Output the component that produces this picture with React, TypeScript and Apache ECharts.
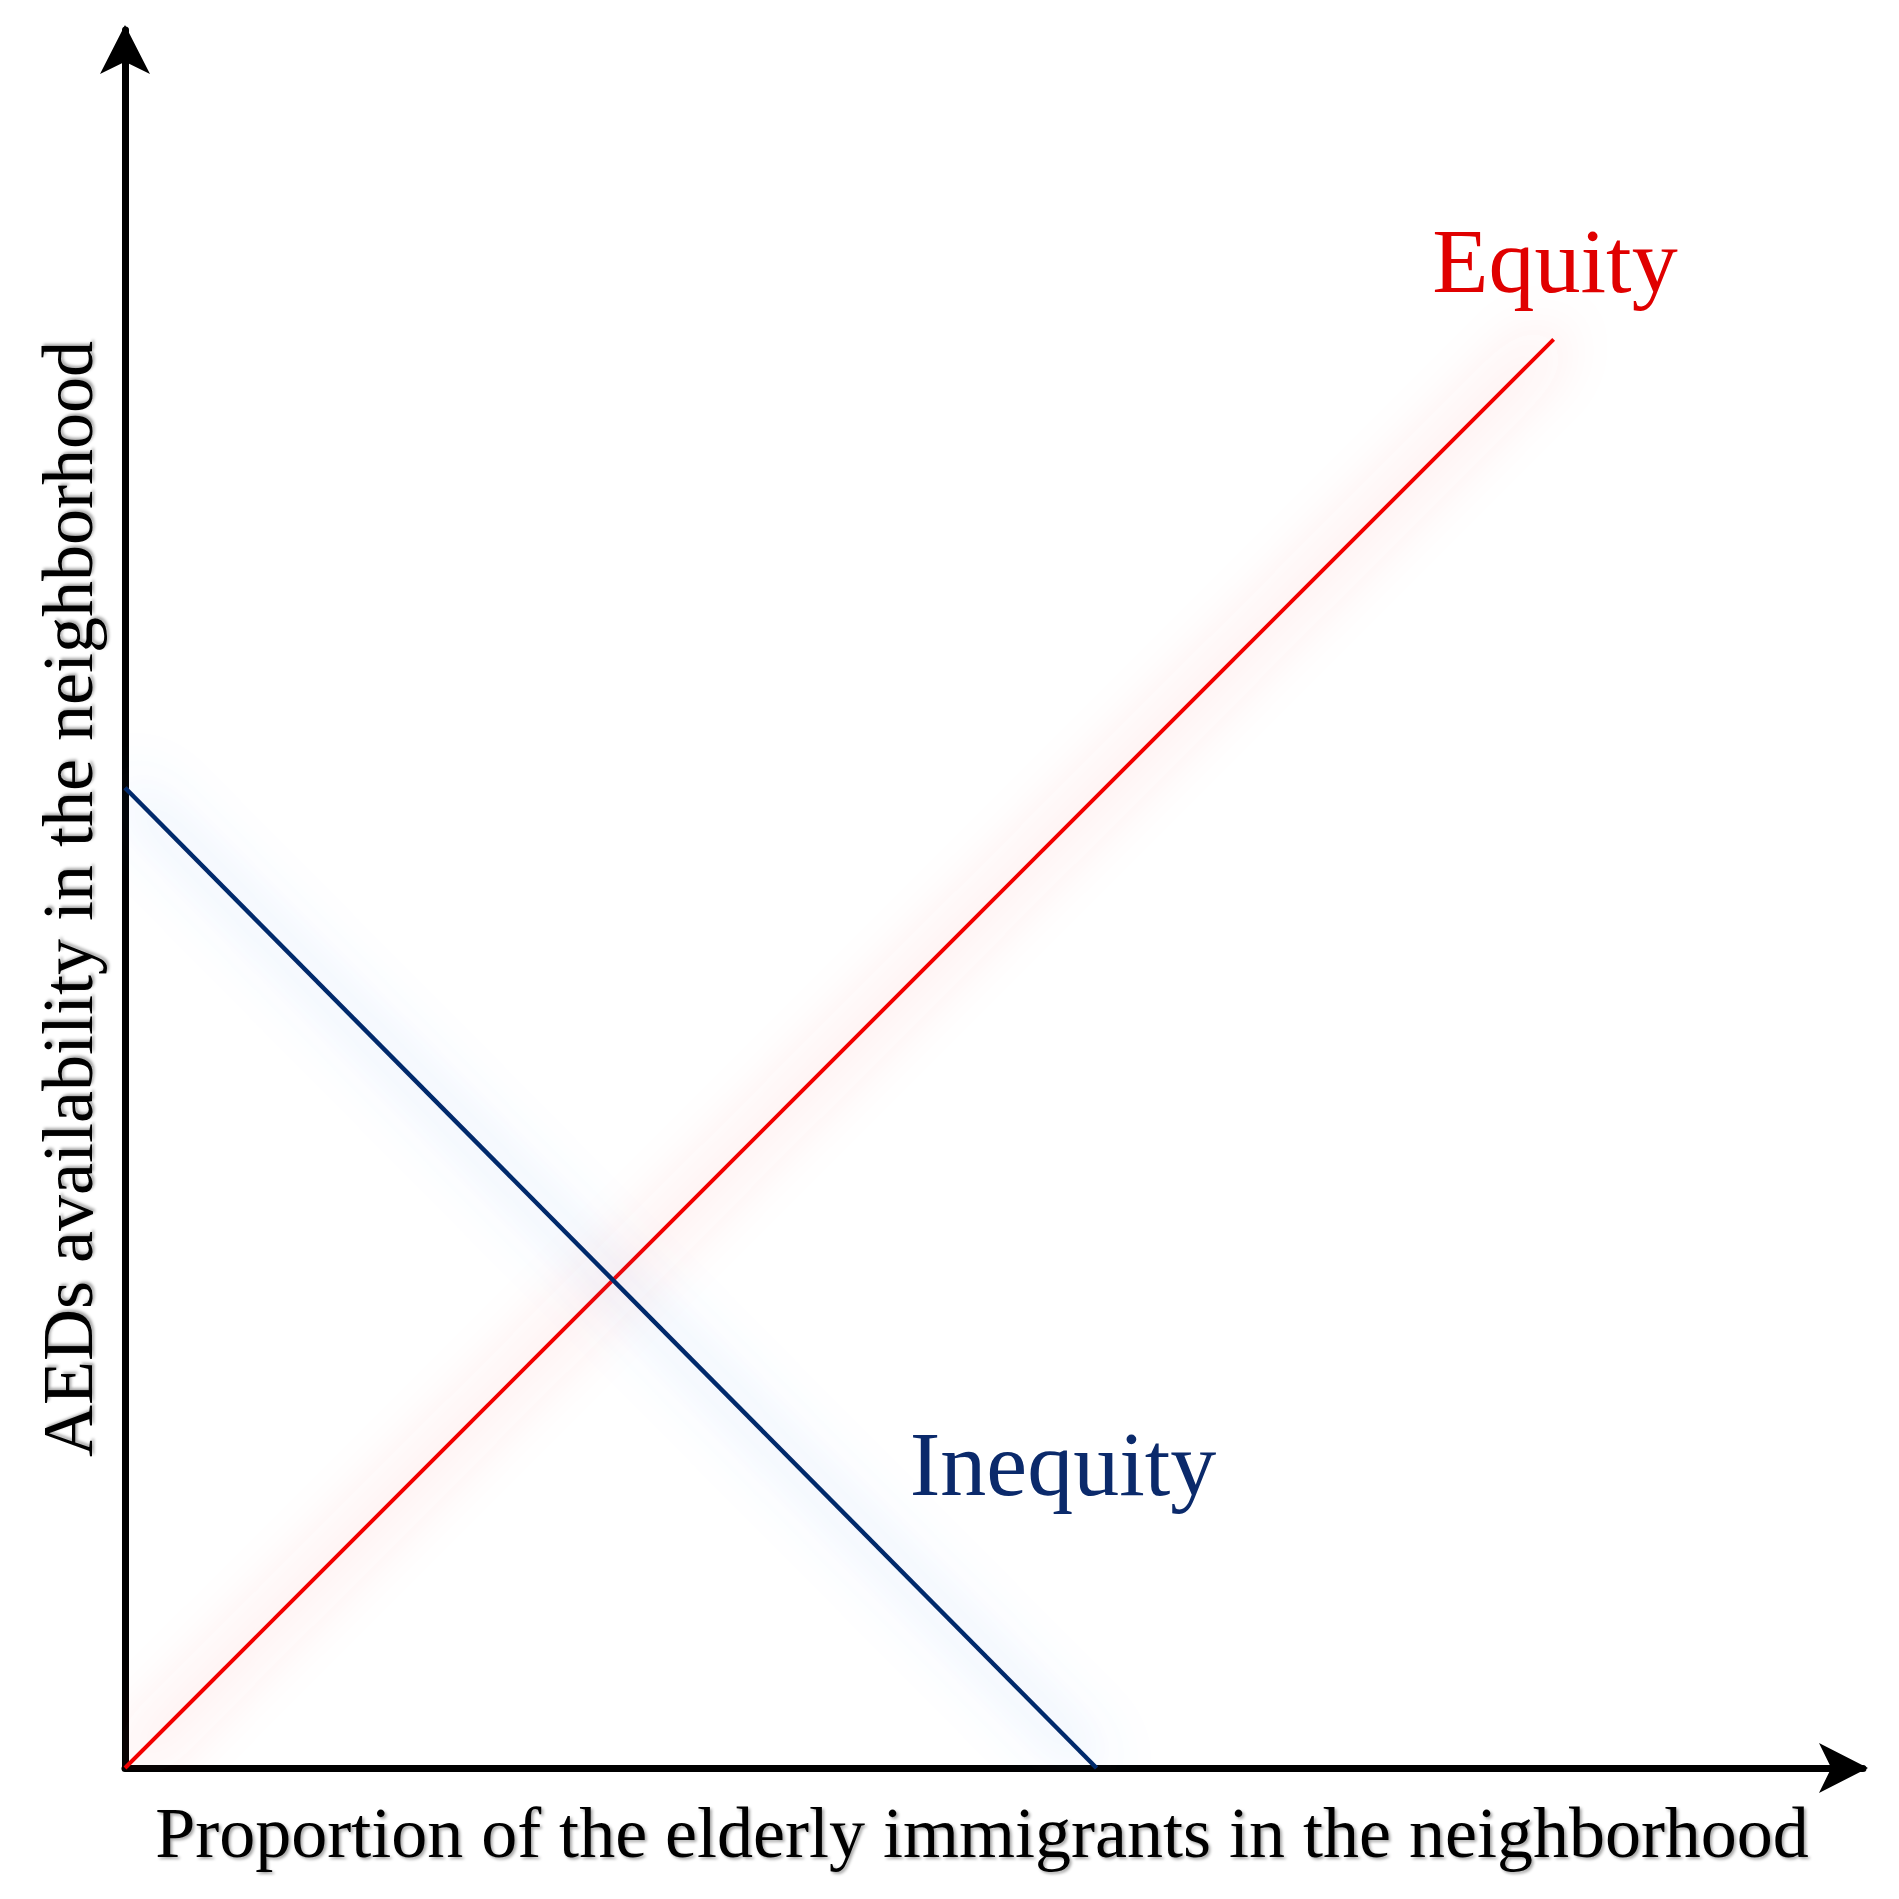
import React, { useEffect, useRef } from "react";
import * as echarts from "echarts";

const xAxisName = "Proportion of the elderly immigrants in the neighborhood";
const yAxisName = "AEDs availability in the neighborhood";
const seriesNames = ["Equity", "Inequity"];
const equityPoints: number[][] = [
  [0, 0],
  [82.2, 82.2],
];
const inequityPoints: number[][] = [
  [0, 56.4],
  [55.9, 0],
];
const axisRange = [0, 100];

const SERIF = "'Liberation Serif', 'Times New Roman', serif";

export default function App() {
  const ref = useRef<HTMLDivElement>(null);
  useEffect(() => {
    document.body.style.margin = "0";
    document.body.style.overflow = "hidden";
    const chart = echarts.init(ref.current!, null, { renderer: "svg" });
    const textShadow = {
      textShadowColor: "rgba(0,0,0,0.35)",
      textShadowBlur: 3,
      textShadowOffsetX: 2,
      textShadowOffsetY: 2,
    };
    const axisCommon = {
      type: "value" as const,
      min: axisRange[0],
      max: axisRange[1],
      splitLine: { show: false },
      axisTick: { show: false },
      axisLabel: { show: false },
      nameLocation: "middle" as const,
      nameTextStyle: {
        fontFamily: SERIF,
        fontSize: 72,
        color: "#000",
        ...textShadow,
      },
      axisLine: {
        show: true,
        symbol: ["none", "arrow"],
        symbolSize: [37.5, 49],
        symbolOffset: [0, 5],
        lineStyle: { color: "#000", width: 7 },
      },
    };
    chart.setOption({
      animation: false,
      backgroundColor: "#ffffff",
      grid: { left: 125, top: 30, width: 1738, height: 1738 },
      xAxis: {
        ...axisCommon,
        name: xAxisName,
        nameGap: 29,
        nameTextStyle: { ...axisCommon.nameTextStyle, padding: [0, 24, 0, 0] },
      },
      yAxis: {
        ...axisCommon,
        name: yAxisName,
        nameGap: 21,
        nameRotate: 90,
      },
      series: [
        {
          name: seriesNames[0],
          type: "line",
          data: equityPoints,
          symbol: "none",
          z: 3,
          lineStyle: {
            color: "#f20000",
            width: 4,
            shadowBlur: 60,
            shadowColor: "rgba(255,70,70,1)",
          },
        },
        {
          name: seriesNames[1],
          type: "line",
          data: inequityPoints,
          symbol: "none",
          z: 3,
          lineStyle: {
            color: "#062c6c",
            width: 4.5,
            shadowBlur: 60,
            shadowColor: "rgba(90,150,240,1)",
          },
        },
      ],
      graphic: [
        {
          type: "text",
          x: 1555,
          y: 261,
          style: {
            text: seriesNames[0],
            fontFamily: SERIF,
            fontSize: 92,
            fill: "#e00000",
            align: "center",
            verticalAlign: "middle",
            shadowColor: "rgba(0,0,0,0.35)",
            shadowBlur: 3,
            shadowOffsetX: 2,
            shadowOffsetY: 2,
          },
        },
        {
          type: "text",
          x: 1063,
          y: 1464,
          style: {
            text: seriesNames[1],
            fontFamily: SERIF,
            fontSize: 92,
            fill: "#0b2a6b",
            align: "center",
            verticalAlign: "middle",
            shadowColor: "rgba(0,0,0,0.35)",
            shadowBlur: 3,
            shadowOffsetX: 2,
            shadowOffsetY: 2,
          },
        },
      ],
    });
    return () => chart.dispose();
  }, []);
  return <div ref={ref} style={{ width: 1899, height: 1899 }} />;
}
